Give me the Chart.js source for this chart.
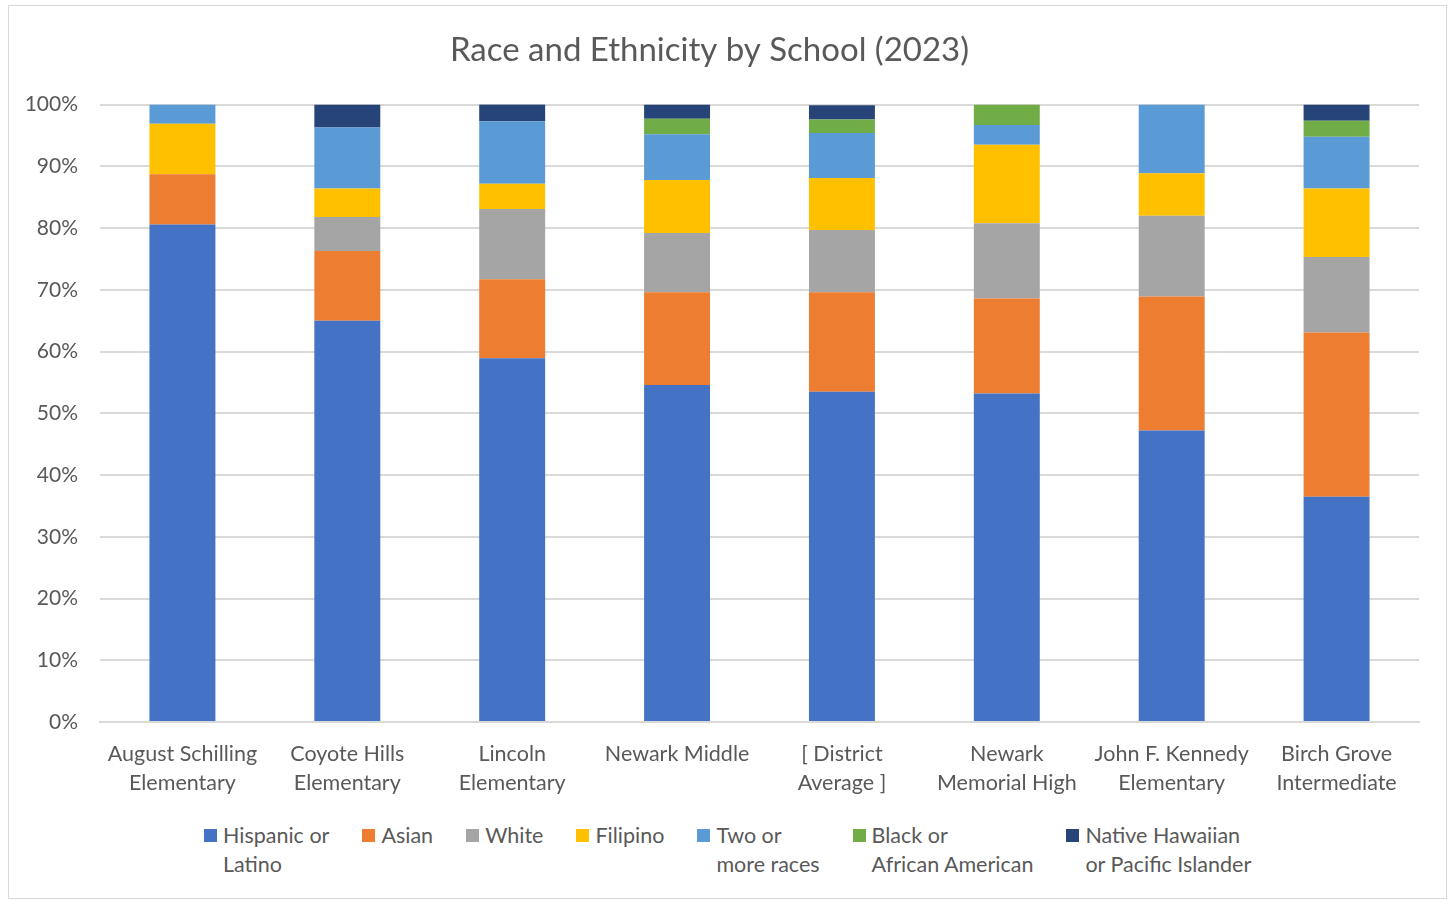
<!DOCTYPE html>
<html>
<head>
<meta charset="utf-8">
<script src="https://cdn.jsdelivr.net/npm/chart.js@4.4.1/dist/chart.umd.min.js"></script>
<style>
  body { margin: 0; background: #fff; font-family: Lato, "Open Sans", sans-serif; }
  .frame { position: absolute; left: 8px; top: 5px; width: 1437px; height: 892px; border: 1px solid #d9d9d9; }
  .wrap { position: absolute; left: 0; top: 0; width: 1454px; height: 810px; }
  .legend { position: absolute; left: 204px; top: 821px; display: flex; gap: 33px; color: #595959; font-size: 21.5px; line-height: 29px; }
  .legend .item { display: flex; align-items: flex-start; }
  .legend .box { width: 13px; height: 13px; margin: 8px 6px 0 0; flex: none; }
</style>
</head>
<body>
<div class="frame"></div>
<div class="wrap"><canvas id="chart"></canvas></div>
<div class="legend" id="legend"></div>
<script>
// categories (multi-line as shown on the axis)
const schools = [
  ['August Schilling', 'Elementary'],
  ['Coyote Hills', 'Elementary'],
  ['Lincoln', 'Elementary'],
  ['Newark Middle'],
  ['[ District', 'Average ]'],
  ['Newark', 'Memorial High'],
  ['John F. Kennedy', 'Elementary'],
  ['Birch Grove', 'Intermediate']
]

// shares in percent
const hispanic = [80.6, 65.0, 58.9, 54.6, 53.5, 53.2, 47.2, 36.5]
const asian    = [8.1, 11.3, 12.8, 15.0, 16.1, 15.4, 21.7, 26.6]
const white    = [0, 5.5, 11.4, 9.6, 10.1, 12.2, 13.1, 12.2]
const filipino = [8.2, 4.6, 4.1, 8.6, 8.4, 12.7, 6.9, 11.1]
const twoOrMore = [3.1, 9.9, 10.1, 7.4, 7.3, 3.2, 11.1, 8.4]
const black    = [0, 0, 0, 2.5, 2.2, 3.3, 0, 2.6]
const hawaiian = [0, 3.7, 2.75, 2.3, 2.3, 0, 0, 2.6]

const yTicks = [0, 10, 20, 30, 40, 50, 60, 70, 80, 90, 100]

const series = [
  {label: ['Hispanic or', 'Latino'], data: hispanic, color: '#4472C4'},
  {label: ['Asian'], data: asian, color: '#ED7D31'},
  {label: ['White'], data: white, color: '#A5A5A5'},
  {label: ['Filipino'], data: filipino, color: '#FFC000'},
  {label: ['Two or', 'more races'], data: twoOrMore, color: '#5B9BD5'},
  {label: ['Black or', 'African American'], data: black, color: '#70AD47'},
  {label: ['Native Hawaiian', 'or Pacific Islander'], data: hawaiian, color: '#264478'}
]

const textColor = '#595959'
const fontFamily = 'Lato, "Open Sans", sans-serif'

new Chart(document.getElementById('chart'), {
  type: 'bar',
  data: {
    labels: schools,
    datasets: series.map(s => ({
      label: s.label.join(' '),
      data: s.data,
      backgroundColor: s.color,
      borderWidth: 0,
      barPercentage: 0.4,
      categoryPercentage: 1
    }))
  },
  options: {
    responsive: true,
    maintainAspectRatio: false,
    animation: false,
    layout: {padding: {left: 0, right: 35, top: 0, bottom: 0}},
    plugins: {
      legend: {display: false},
      tooltip: {enabled: false},
      title: {
        display: true,
        text: 'Race and Ethnicity by School (2023)',
        color: textColor,
        font: {family: fontFamily, size: 33, weight: 'normal', lineHeight: 1.2},
        padding: {top: 31, bottom: 34}
      }
    },
    scales: {
      x: {
        stacked: true,
        grid: {display: false},
        border: {display: true, color: '#d9d9d9', width: 2},
        ticks: {color: textColor, font: {family: fontFamily, size: 21.5, lineHeight: '29px'}, padding: 10, maxRotation: 0, autoSkip: false},
        afterFit: (scale) => { scale.height = 88 }
      },
      y: {
        stacked: true,
        min: 0,
        max: 100,
        afterBuildTicks: (scale) => { scale.ticks = yTicks.map(v => ({value: v})) },
        grid: {color: '#d9d9d9', lineWidth: 2, drawTicks: false},
        border: {display: false},
        ticks: {color: textColor, font: {family: fontFamily, size: 21}, padding: 22, callback: v => v + '%'},
        afterFit: (scale) => { scale.width = 100 }
      }
    }
  }
})

// legend with wrapped labels, same as the original
const legendEl = document.getElementById('legend')
series.forEach(s => {
  const item = document.createElement('div')
  item.className = 'item'
  const box = document.createElement('span')
  box.className = 'box'
  box.style.background = s.color
  const txt = document.createElement('span')
  txt.innerHTML = s.label.join('<br>')
  item.appendChild(box)
  item.appendChild(txt)
  legendEl.appendChild(item)
})
</script>
</body>
</html>
